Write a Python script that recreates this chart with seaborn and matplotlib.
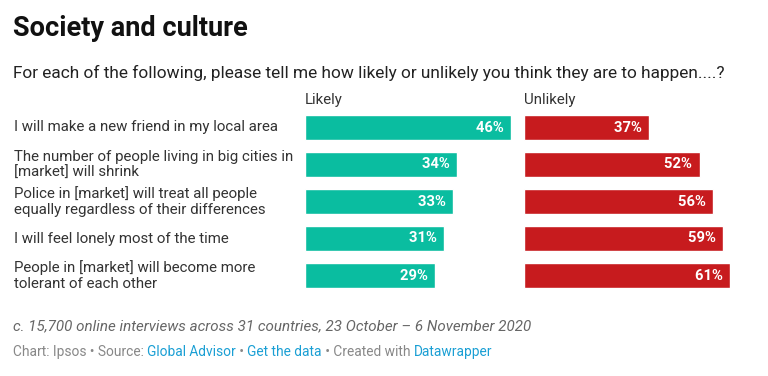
import pandas as pd
import matplotlib
matplotlib.use("Agg")
import matplotlib.pyplot as plt
import matplotlib.transforms as mtransforms
import seaborn as sns

# data
statements = [
    "I will make a new friend in my local area",
    "The number of people living in big cities in\n[market] will shrink",
    "Police in [market] will treat all people\nequally regardless of their differences",
    "I will feel lonely most of the time",
    "People in [market] will become more\ntolerant of each other",
]
likely = [46, 34, 33, 31, 29]
unlikely = [37, 52, 56, 59, 61]

df = pd.DataFrame({"statement": statements, "Likely": likely, "Unlikely": unlikely})

sns.set_theme(style="white")
plt.rcParams["font.family"] = ["Roboto", "DejaVu Sans"]

W, H = 768, 376
fig = plt.figure(figsize=(W / 100, H / 100), dpi=100)

def px_rect(x0, x1, y0, y1):
    return [x0 / W, 1 - y1 / H, (x1 - x0) / W, (y1 - y0) / H]

top, bottom = 109, 294
panels = [("Likely", "#0abda0", 305), ("Unlikely", "#c71b1e", 524)]
axes = []
for col, color, x0 in panels:
    ax = fig.add_axes(px_rect(x0, x0 + 206, top, bottom))
    sns.barplot(data=df, x=col, y="statement", color=color, saturation=1,
                width=0.68, ax=ax)
    ax.set_xlim(0, df[col].max())
    ax.set_ylim(len(df) - 0.5, -0.5)
    ax.set_axis_off()
    for i, v in enumerate(df[col]):
        ax.text(v, i, f"{v}%  ", ha="right", va="center", color="white",
                fontsize=10.6, fontweight="bold")
    fig.text(x0 / W, 1 - 100 / H, col, ha="left", va="center",
             fontsize=10.8, color="#333333")
    axes.append(ax)

# row labels
trans = mtransforms.blended_transform_factory(fig.transFigure, axes[0].transData)
for i, s in enumerate(statements):
    axes[0].text(14 / W, i, s, transform=trans, ha="left", va="center",
                 fontsize=10.8, color="#333333", linespacing=1.15)

fig.text(13 / W, 1 - 29 / H, "Society and culture", fontsize=19.5,
         fontweight="bold", color="#111111", va="center")
fig.text(13 / W, 1 - 73 / H,
         "For each of the following, please tell me how likely or unlikely you think they are to happen....?",
         fontsize=12.4, color="#222222", va="center")
fig.text(13 / W, 1 - 326 / H,
         "c. 15,700 online interviews across 31 countries, 23 October \u2013 6 November 2020",
         fontsize=10.9, style="italic", color="#666666", va="center")

# credit line in coloured pieces
grey, blue = "#888888", "#1a9fd4"
pieces = [("Chart: Ipsos \u2022 Source: ", grey), ("Global Advisor", blue),
          (" \u2022 ", grey), ("Get the data", blue),
          (" \u2022 Created with ", grey), ("Datawrapper", blue)]
renderer = fig.canvas.get_renderer()
x = 13
for txt, c in pieces:
    t = fig.text(x / W, 1 - 352 / H, txt, fontsize=9.9, color=c, va="center")
    x += t.get_window_extent(renderer).width

fig.savefig("out.png", dpi=100, facecolor="white")
